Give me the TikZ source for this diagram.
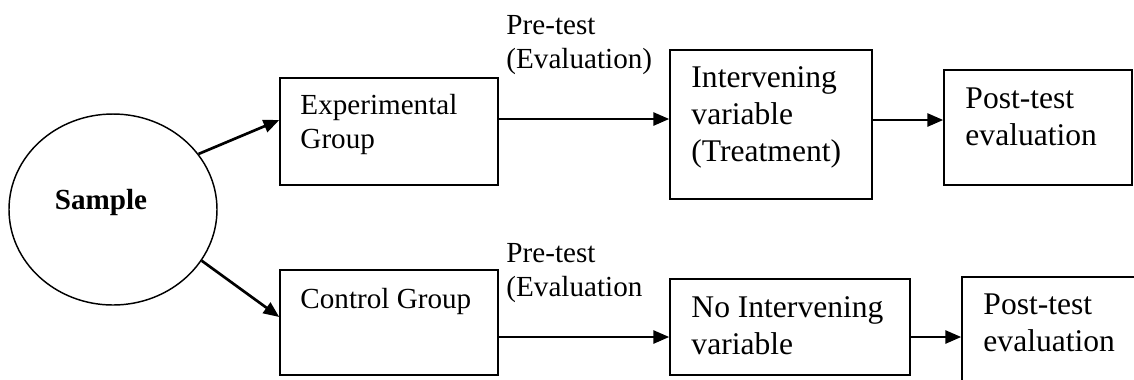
\documentclass[tikz,border=0pt]{standalone}
\usepackage{fontspec}
\setmainfont{Liberation Serif}
\usetikzlibrary{shapes.geometric,arrows.meta}
\newdimen\px \px=0.412pt
\tikzset{
  box/.style={draw, line width=0.6pt, inner sep=0pt},
  txt/.style={anchor=north west, inner sep=0pt, align=left, font=\fontsize{12}{14}\selectfont},
  bigtxt/.style={txt, font=\fontsize{13}{15.2}\selectfont},
  arr/.style={line width=1.1pt, -{Triangle[length=6.5pt,width=5.3pt]}}
}
\begin{document}
\begin{tikzpicture}[x=\px, y=-\px]
\clip (0,0) rectangle (1134,379);

\node[box, ellipse, minimum width=208\px, minimum height=191\px] (sample) at (113,209.5) {};
\node[anchor=base, inner sep=0pt, font=\fontsize{12}{14}\selectfont\bfseries] (samplelbl) at (101,209) {Sample};

\node[box, minimum width=218\px, minimum height=107\px] (exp) at (389,131.5) {};
\node[txt] (exptxt) at (300,94) {Experimental\\Group};
\node[box, minimum width=218\px, minimum height=105\px] (ctrl) at (389,322.5) {};
\node[txt] (ctrltxt) at (300,288) {Control Group};

\node[txt] (pre1) at (506,15) {Pre-test\\(Evaluation)};
\node[txt] (pre2) at (506,243) {Pre-test\\(Evaluation};

\node[box, minimum width=202\px, minimum height=149\px] (interv) at (771,124.5) {};
\node[bigtxt] (intervtxt) at (691,66.5) {Intervening\\variable\\(Treatment)};
\node[box, minimum width=240\px, minimum height=96\px] (noint) at (790,327) {};
\node[bigtxt] (nointtxt) at (691,296.5) {No Intervening\\variable};

\node[box, minimum width=188\px, minimum height=115\px] (post1) at (1038,127.5) {};
\node[bigtxt] (post1txt) at (965,87.5) {Post-test\\evaluation};
\node[box, minimum width=198\px, minimum height=123\px] (post2) at (1061,338.5) {};
\node[bigtxt] (post2txt) at (983,293.5) {Post-test\\evaluation};

\draw[arr] (sample.33) -- (exp.west |- 0,120);
\draw[arr] (sample.-30) -- (ctrl.west |- 0,317);
\draw[arr] (exp.east |- 0,119) -- (interv.west |- 0,119);
\draw[arr] (interv.east |- 0,120) -- (post1.west |- 0,120);
\draw[arr] (ctrl.east |- 0,337) -- (noint.west |- 0,337);
\draw[arr] (noint.east |- 0,337) -- (post2.west |- 0,337);
\end{tikzpicture}
\end{document}
